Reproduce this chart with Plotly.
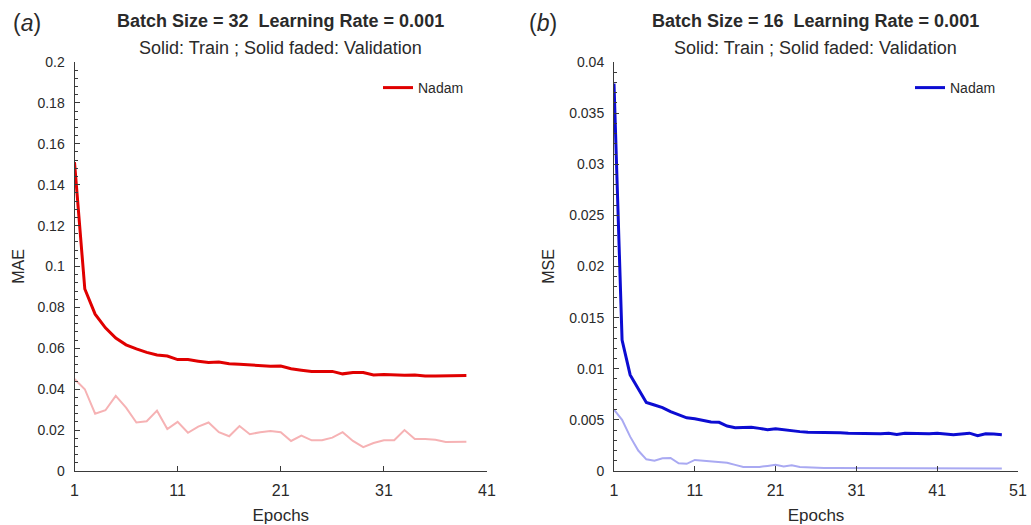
import plotly.graph_objects as go

# ---------------- data ----------------
epochs_a = list(range(1, 40))
train_a = [0.151, 0.089, 0.0767, 0.070, 0.065, 0.0617, 0.0597, 0.058, 0.0567, 0.0562,
           0.0545, 0.0545, 0.0537, 0.053, 0.0533, 0.0525, 0.0522, 0.0518, 0.0517, 0.0512,
           0.0513, 0.050, 0.0493, 0.0487, 0.0487, 0.0487, 0.0475, 0.0482, 0.0482, 0.047,
           0.0472, 0.047, 0.0468, 0.047, 0.0465, 0.0465, 0.0465, 0.0465, 0.0467]
val_a = [0.045, 0.040, 0.028, 0.0297, 0.0367, 0.031, 0.0237, 0.0243, 0.0295, 0.0205,
         0.024, 0.0187, 0.0217, 0.0237, 0.019, 0.017, 0.022, 0.018, 0.019, 0.0195,
         0.019, 0.0147, 0.0173, 0.015, 0.015, 0.0163, 0.019, 0.0147, 0.0117, 0.0137,
         0.015, 0.015, 0.020, 0.0157, 0.0157, 0.0153, 0.0142, 0.0143, 0.0143]

epochs_b = list(range(1, 50))
train_b = [0.0379, 0.0128, 0.0094, 0.0080, 0.0067, 0.00645, 0.0062, 0.0058, 0.0055, 0.0052,
           0.0051, 0.00495, 0.0048, 0.00476, 0.0044, 0.00424, 0.00424, 0.00427, 0.00417, 0.00404,
           0.00414, 0.00404, 0.0039, 0.00385, 0.0038, 0.0038, 0.0038, 0.00378, 0.00375, 0.0037,
           0.00368, 0.00368, 0.00368, 0.00365, 0.00368, 0.00358, 0.0037, 0.00368, 0.00362, 0.00365,
           0.00368, 0.00362, 0.00355, 0.00362, 0.0037, 0.00346, 0.00365, 0.00362, 0.00355]
val_b = [0.006, 0.005, 0.00336, 0.002, 0.00114, 0.001, 0.00124, 0.00127, 0.00075, 0.0007,
         0.00108, 0.001, 0.0009, 0.00085, 0.0008, 0.0006, 0.0004, 0.0004, 0.0004, 0.0005,
         0.0006, 0.00045, 0.00055, 0.0004, 0.00035, 0.0003, 0.0003, 0.0003, 0.0003, 0.0003,
         0.0003, 0.00028, 0.00028, 0.00028, 0.00028, 0.00028, 0.00028, 0.00025, 0.00025, 0.00025,
         0.00025, 0.00028, 0.0003, 0.00028, 0.00028, 0.00025, 0.00025, 0.00025, 0.00025]

xticks_a = [1, 11, 21, 31, 41]
xticks_b = [1, 11, 21, 31, 41, 51]
yticks_a = [0, 0.02, 0.04, 0.06, 0.08, 0.1, 0.12, 0.14, 0.16, 0.18, 0.2]
ylabels_a = ["0", "0.02", "0.04", "0.06", "0.08", "0.1", "0.12", "0.14", "0.16", "0.18", "0.2"]
yticks_b = [0, 0.005, 0.01, 0.015, 0.02, 0.025, 0.03, 0.035, 0.04]
ylabels_b = ["0", "0.005", "0.01", "0.015", "0.02", "0.025", "0.03", "0.035", "0.04"]

# ---------------- styles ----------------
W, H = 1031, 525
RED, RED_FADED = "#e00000", "#f6b2b4"
BLUE, BLUE_FADED = "#0c0cd2", "#a9a9f2"
AX = "#3a3a3a"
TXT = "#2a2a2a"
FONT = "Liberation Sans, Arial, sans-serif"
NARROW = "Liberation Sans Narrow, Arial Narrow, Liberation Sans, sans-serif"

fig = go.Figure()
fig.add_trace(go.Scatter(x=epochs_a, y=val_a, mode="lines", line=dict(color=RED_FADED, width=2),
                         showlegend=False, xaxis="x", yaxis="y"))
fig.add_trace(go.Scatter(x=epochs_a, y=train_a, mode="lines", name="Nadam",
                         line=dict(color=RED, width=3), xaxis="x", yaxis="y", legend="legend"))
fig.add_trace(go.Scatter(x=epochs_b, y=val_b, mode="lines", line=dict(color=BLUE_FADED, width=2),
                         showlegend=False, xaxis="x2", yaxis="y2"))
fig.add_trace(go.Scatter(x=epochs_b, y=train_b, mode="lines", name="Nadam",
                         line=dict(color=BLUE, width=3), xaxis="x2", yaxis="y2", legend="legend2"))

ydom = [1 - 471 / H, 1 - 62 / H]
xdom_a = [74.5 / W, 487 / W]
xdom_b = [614 / W, 1018 / W]


def xaxis(dom, ticks, anchor, rng):
    return dict(domain=dom, anchor=anchor, range=rng, tickvals=ticks, automargin=False,
                showline=True, linecolor=AX, linewidth=1, mirror=False,
                ticks="inside", ticklen=5, tickcolor=AX, showgrid=False, zeroline=False,
                tickfont=dict(family=NARROW, size=16, color=TXT), ticklabelstandoff=5,
                title=dict(text="Epochs", font=dict(family=NARROW, size=17, color=TXT), standoff=10))


def yaxis(ticks, labels, rng, minor_dt, anchor, title, standoff):
    return dict(domain=ydom, anchor=anchor, range=rng, tickvals=ticks, ticktext=labels, automargin=False,
                showline=True, linecolor=AX, linewidth=1, mirror=False,
                ticks="inside", ticklen=5, tickcolor=AX, tickwidth=1, showgrid=False, zeroline=False,
                minor=dict(dtick=minor_dt, tick0=0, ticks="inside", ticklen=3, tickcolor=AX,
                           tickwidth=1, showgrid=False),
                tickfont=dict(family=FONT, size=14, color=TXT), ticklabelstandoff=6,
                title=dict(text=title, font=dict(family=FONT, size=16, color=TXT), standoff=standoff))


fig.update_layout(
    template="none",
    width=W, height=H, margin=dict(l=0, r=0, t=0, b=0, autoexpand=False),
    paper_bgcolor="white", plot_bgcolor="white",
    xaxis=xaxis(xdom_a, xticks_a, "y", [1, 41]),
    yaxis=yaxis(yticks_a, ylabels_a, [0, 0.2], 0.004, "x", "MAE", 8),
    xaxis2=xaxis(xdom_b, xticks_b, "y2", [1, 51]),
    yaxis2=yaxis(yticks_b, ylabels_b, [0, 0.04], 0.001, "x2", "MSE", 10),
    legend=dict(x=378 / W, y=1 - 88 / H, xanchor="left", yanchor="middle",
                bgcolor="rgba(0,0,0,0)", borderwidth=0,
                font=dict(family=FONT, size=14, color=TXT)),
    legend2=dict(x=910 / W, y=1 - 88 / H, xanchor="left", yanchor="middle",
                 bgcolor="rgba(0,0,0,0)", borderwidth=0,
                 font=dict(family=FONT, size=14, color=TXT)),
)

annos = [
    dict(text="<b>Batch Size = 32\u00a0\u00a0Learning Rate = 0.001</b>", x=(xdom_a[0] + xdom_a[1]) / 2, y=1 - 21 / H),
    dict(text="Solid: Train ; Solid faded: Validation", x=(xdom_a[0] + xdom_a[1]) / 2, y=1 - 48 / H),
    dict(text="<b>Batch Size = 16\u00a0\u00a0Learning Rate = 0.001</b>", x=(xdom_b[0] + xdom_b[1]) / 2, y=1 - 21 / H),
    dict(text="Solid: Train ; Solid faded: Validation", x=(xdom_b[0] + xdom_b[1]) / 2, y=1 - 48 / H),
]
for a in annos:
    fig.add_annotation(xref="paper", yref="paper", x=a["x"], y=a["y"], text=a["text"],
                       showarrow=False, xanchor="center", yanchor="middle",
                       font=dict(family=FONT, size=18, color=TXT))

fig.add_annotation(xref="paper", yref="paper", x=27 / W, y=1 - 23 / H, text="(<i>a</i>)",
                   showarrow=False, xanchor="center", yanchor="middle",
                   font=dict(family=FONT, size=23, color=TXT))
fig.add_annotation(xref="paper", yref="paper", x=543 / W, y=1 - 23 / H, text="(<i>b</i>)",
                   showarrow=False, xanchor="center", yanchor="middle",
                   font=dict(family=FONT, size=23, color=TXT))

fig.write_html("out.html", config={"displayModeBar": False},
               post_script="document.body.style.margin='0';document.body.style.overflow='hidden';")
